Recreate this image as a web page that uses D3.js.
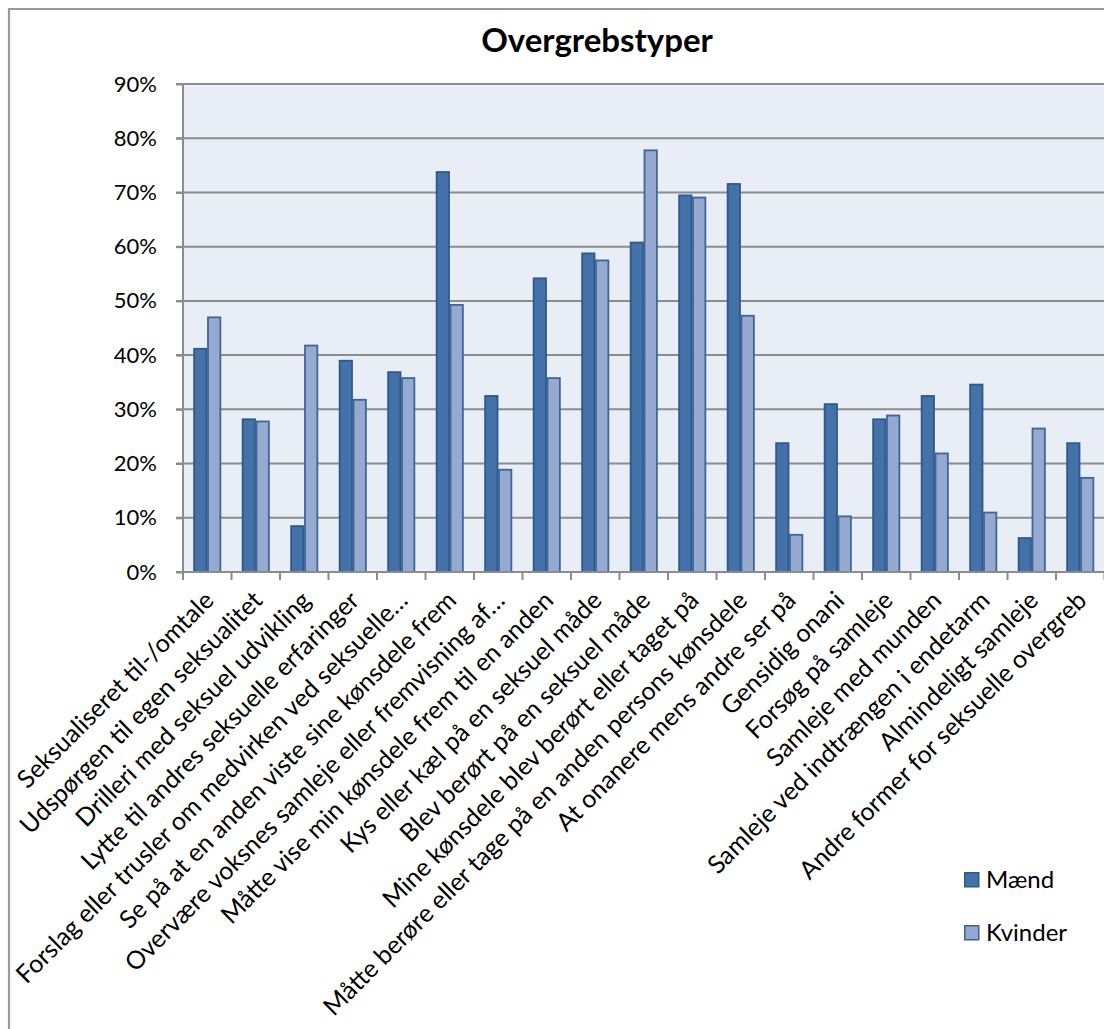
<!DOCTYPE html>
<html>
<head>
<meta charset="utf-8">
<script src="https://cdn.jsdelivr.net/npm/d3@7"></script>
<style>
  html, body { margin: 0; padding: 0; background: #fff; }
  svg { display: block; }
  text { font-family: Lato, "Open Sans", sans-serif; fill: #000; }
</style>
</head>
<body>
<svg id="chart" width="1104" height="1029"></svg>
<script>
const categories = [
  "Seksualiseret til-/omtale",
  "Udspørgen til egen seksualitet",
  "Drilleri med seksuel udvikling",
  "Lytte til andres seksuelle erfaringer",
  "Forslag eller trusler om medvirken ved seksuelle…",
  "Se på at en anden viste sine kønsdele frem",
  "Overvære voksnes samleje eller fremvisning af…",
  "Måtte vise min kønsdele frem til en anden",
  "Kys eller kæl på en seksuel måde",
  "Blev berørt på en seksuel måde",
  "Mine kønsdele blev berørt eller taget på",
  "Måtte berøre eller tage på en anden persons kønsdele",
  "At onanere mens andre ser på",
  "Gensidig onani",
  "Forsøg på samleje",
  "Samleje med munden",
  "Samleje ved indtrængen i endetarm",
  "Almindeligt samleje",
  "Andre former for seksuelle overgreb"
];
const seriesNames = ["Mænd", "Kvinder"];
const maend   = [41.3, 28.3, 8.6, 39.1, 37.0, 73.9, 32.6, 54.3, 58.9, 60.9, 69.6, 71.7, 23.9, 31.1, 28.3, 32.6, 34.7, 6.4, 23.9];
const kvinder = [47.1, 27.9, 41.9, 31.9, 35.9, 49.4, 19.0, 35.9, 57.6, 77.9, 69.2, 47.4, 7.0, 10.4, 29.0, 22.0, 11.1, 26.6, 17.5];
const yTicks = [0, 10, 20, 30, 40, 50, 60, 70, 80, 90];
const chartTitle = "Overgrebstyper";

(function () {
const fills = ["#4471A7", "#95A9D1"];
const strokes = ["#2C5A8E", "#3D6599"];
const gridColor = "#8C8C8C";

const svg = d3.select("#chart");
const W = 1104, H = 1029;
const pLeft = 183, pTop = 84, pBottom = 572;
const bandW = 48.5;
const pRight = pLeft + bandW * categories.length;

// outer chart border
svg.append("path")
  .attr("d", `M9,${H+5} L9,9 L${W+5},9`)
  .attr("fill", "none").attr("stroke", "#9A9A9A").attr("stroke-width", 2.2);

const x = d3.scaleBand().domain(categories).range([pLeft, pRight]).paddingInner(0).paddingOuter(0);
const y = d3.scaleLinear().domain([0, 90]).range([pBottom, pTop]);
const xs = d3.scaleBand().domain(seriesNames).range([0, bandW]).paddingInner(0).paddingOuter(0.75);

// plot background
svg.append("rect").attr("x", pLeft).attr("y", pTop).attr("width", pRight - pLeft).attr("height", pBottom - pTop)
  .attr("fill", "#E9EDF5");

// grid lines
svg.append("g").selectAll("line").data(yTicks.filter(d => d > 0)).join("line")
  .attr("x1", pLeft - 7).attr("x2", pRight)
  .attr("y1", d => y(d)).attr("y2", d => y(d))
  .attr("stroke", gridColor).attr("stroke-width", 2);

// y axis
const yAxis = d3.axisLeft(y).tickValues(yTicks).tickFormat(d => d + "%").tickSize(7).tickPadding(19);
const gy = svg.append("g").attr("transform", `translate(${pLeft},0)`).call(yAxis);
gy.select(".domain").remove();
gy.selectAll(".tick line").attr("stroke", gridColor).attr("stroke-width", 2);
gy.selectAll(".tick text").style("font-size", "22px").style("font-family", "Lato, sans-serif").attr("fill", "#000");
svg.append("line").attr("x1", pLeft).attr("x2", pLeft).attr("y1", pTop).attr("y2", pBottom + 8)
  .attr("stroke", gridColor).attr("stroke-width", 2);

// bars
const data = categories.map((c, i) => ({c, vals: [maend[i], kvinder[i]]}));
const groups = svg.append("g").selectAll("g").data(data).join("g")
  .attr("transform", d => `translate(${x(d.c)},0)`);
groups.selectAll("rect").data(d => d.vals.map((v, j) => ({v, s: seriesNames[j], j}))).join("rect")
  .attr("x", d => xs(d.s) + 0.75)
  .attr("width", xs.bandwidth() - 1.5)
  .attr("y", d => y(d.v) + 0.75)
  .attr("height", d => pBottom - y(d.v) - 0.75)
  .attr("fill", d => fills[d.j])
  .attr("stroke", d => strokes[d.j])
  .attr("stroke-width", 1.8);

// x axis
svg.append("line").attr("x1", pLeft - 7).attr("x2", pRight).attr("y1", pBottom).attr("y2", pBottom)
  .attr("stroke", gridColor).attr("stroke-width", 2);
svg.append("g").selectAll("line").data(d3.range(categories.length + 1)).join("line")
  .attr("x1", i => pLeft + i * bandW).attr("x2", i => pLeft + i * bandW)
  .attr("y1", pBottom).attr("y2", pBottom + 8)
  .attr("stroke", gridColor).attr("stroke-width", 2);

// category labels
svg.append("g").selectAll("text").data(categories).join("text")
  .attr("transform", d => `translate(${x(d) + bandW / 2 + 8},${pBottom + 30}) rotate(-45)`)
  .attr("text-anchor", "end")
  .style("font-size", "25px")
  .text(d => d);

// title
svg.append("text").attr("x", 597).attr("y", 52).attr("text-anchor", "middle")
  .style("font-size", "33px").style("font-weight", "bold").text(chartTitle);

// legend
const lg = svg.append("g").selectAll("g").data(seriesNames).join("g")
  .attr("transform", (d, i) => `translate(964,${872 + i * 53})`);
lg.append("rect").attr("x", 0.75).attr("y", 0.75).attr("width", 14).attr("height", 14)
  .attr("fill", (d, i) => fills[i]).attr("stroke", (d, i) => strokes[i]).attr("stroke-width", 1.5);
lg.append("text").attr("x", 22).attr("y", 16).style("font-size", "24px").text(d => d);
})();
</script>
</body>
</html>
